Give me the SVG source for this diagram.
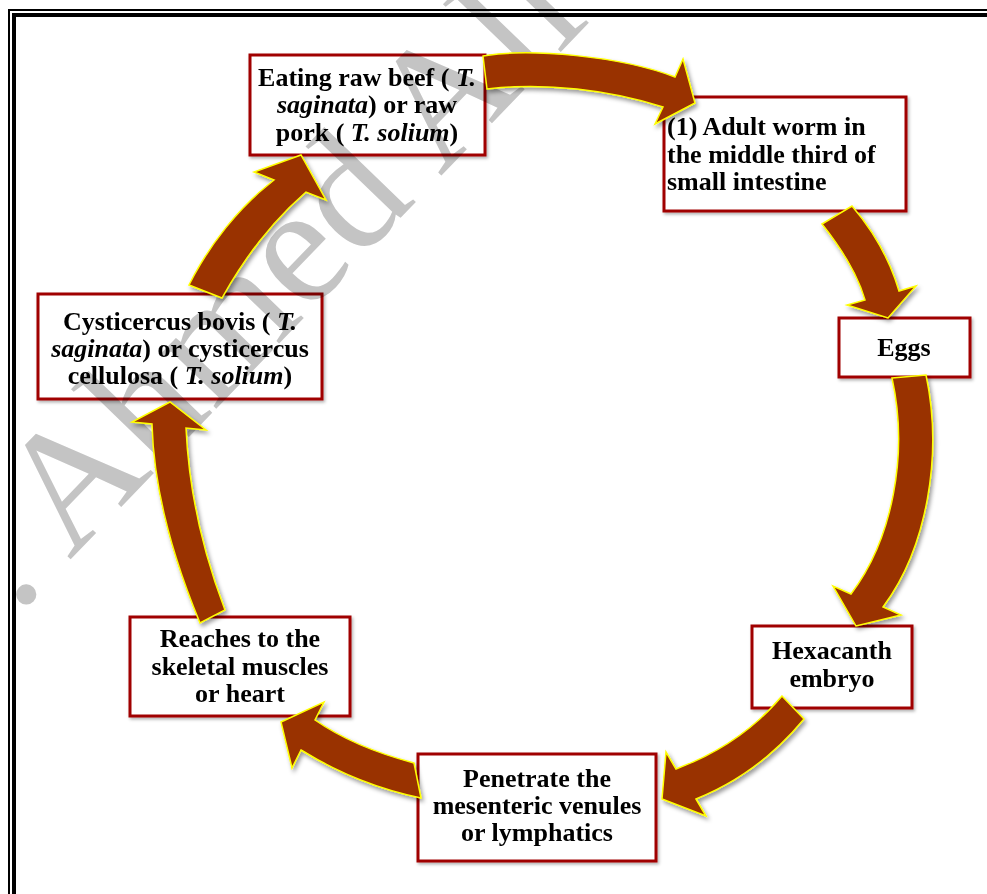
<svg xmlns="http://www.w3.org/2000/svg" width="987" height="894" viewBox="0 0 987 894">
<defs>
<filter id="ashadow" x="-20%" y="-20%" width="140%" height="140%">
<feDropShadow dx="2" dy="3" stdDeviation="2" flood-color="#000" flood-opacity="0.4"/>
</filter>
<filter id="bshadow" x="-10%" y="-10%" width="120%" height="130%">
<feDropShadow dx="1.5" dy="2" stdDeviation="1.5" flood-color="#000" flood-opacity="0.3"/>
</filter>
</defs>
<style>
.box{fill:#fff;stroke:#a00000;stroke-width:3;filter:url(#bshadow)}
.t{font-family:"Liberation Serif","Times New Roman",serif;font-weight:bold;font-size:26px;fill:#000;text-anchor:middle}
.l{text-anchor:start}
.i{font-style:italic}
.arrow{fill:#993300;stroke:#ffff00;stroke-width:1.5;stroke-linejoin:miter;filter:url(#ashadow)}
.wm{font-family:"Liberation Serif","Times New Roman",serif;font-size:170px;fill:#c4c4c4;mix-blend-mode:multiply}
.frame{fill:none;stroke:#000}
</style>
<rect width="987" height="894" fill="#fff"/>
<g id="frame">
<path class="frame" d="M9,894 V10 H987" stroke-width="2"/>
<path class="frame" d="M14,894 V15 H987" stroke-width="4"/>
</g>
<g id="node-eating">
<rect class="box" x="250" y="55" width="235" height="100"/>
<text class="t" x="367" y="86">Eating raw beef ( <tspan class="i">T.</tspan></text>
<text class="t" x="367" y="113"><tspan class="i">saginata</tspan>) or raw</text>
<text class="t" x="367" y="141">pork ( <tspan class="i">T. solium</tspan>)</text>
</g>
<g id="node-adult">
<rect class="box" x="664" y="97" width="242" height="114"/>
<text class="t l" x="667" y="135">(1) Adult worm in</text>
<text class="t l" x="667" y="163">the middle third of</text>
<text class="t l" x="667" y="190">small intestine</text>
</g>
<g id="node-eggs">
<rect class="box" x="839" y="318" width="131" height="59"/>
<text class="t" x="904" y="356">Eggs</text>
</g>
<g id="node-hexacanth">
<rect class="box" x="752" y="626" width="160" height="82"/>
<text class="t" x="832" y="659">Hexacanth</text>
<text class="t" x="832" y="687">embryo</text>
</g>
<g id="node-penetrate">
<rect class="box" x="418" y="754" width="238" height="107"/>
<text class="t" x="537" y="787">Penetrate the</text>
<text class="t" x="537" y="814">mesenteric venules</text>
<text class="t" x="537" y="841">or lymphatics</text>
</g>
<g id="node-reaches">
<rect class="box" x="130" y="617" width="220" height="99"/>
<text class="t" x="240" y="647">Reaches to the</text>
<text class="t" x="240" y="675">skeletal muscles</text>
<text class="t" x="240" y="702">or heart</text>
</g>
<g id="node-cysticercus">
<rect class="box" x="38" y="294" width="284" height="105"/>
<text class="t" x="180" y="330">Cysticercus bovis ( <tspan class="i">T.</tspan></text>
<text class="t" x="180" y="357"><tspan class="i">saginata</tspan>) or cysticercus</text>
<text class="t" x="180" y="384">cellulosa ( <tspan class="i">T. solium</tspan>)</text>
</g>
<g id="watermark">
<text class="wm" transform="translate(17,615) rotate(-46)">. Ahmed Ali</text>
</g>
<g id="connectors">
<path class="arrow" d="M483,56 C530,48 620,56 675,77 L683,59 L695,103 L655,124 L663,107 C610,90 545,82 487,89 Z"/>
<path class="arrow" d="M822,224 L852,206 C870,227 889,257 899,291 L916,286 L888,318 L847,305 L865,300 C857,272 841,248 822,224 Z"/>
<path class="arrow" d="M892,378 L926,375 C943,455 927,548 883,607 L901,615 L856,626 L833,586 L851,594 C892,540 909,455 892,378 Z"/>
<path class="arrow" d="M782,696 L804,719 C776,753 741,781 696,799 L706,816 L662,799 L666,752 L676,769 C719,753 756,727 782,696 Z"/>
<path class="arrow" d="M421,798 L414,763 C380,754 345,741 315,720 L324,702 L281,722 L292,768 L301,750 C338,773 378,789 421,798 Z"/>
<path class="arrow" d="M200,623 C178,570 154,500 152,424 L132,422 L170,402 L206,430 L186,428 C189,495 204,555 225,610 Z"/>
<path class="arrow" d="M189,285 C209,245 239,207 274,180 L254,172 L301,155 L326,200 L306,192 C276,218 246,255 222,298 Z"/>
</g>
</svg>
